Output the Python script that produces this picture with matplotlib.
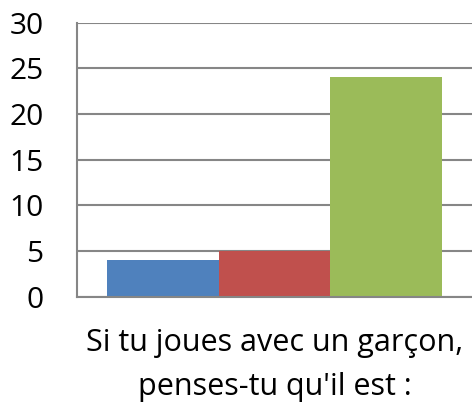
import matplotlib
matplotlib.use("Agg")
import matplotlib.pyplot as plt

categories = ["Si tu joues avec un garçon,\npenses-tu qu'il est :"]
series_names = ["A", "B", "C"]
series_values = [[4], [5], [24]]
series_colors = ["#4F81BD", "#C0504D", "#9BBB59"]
y_ticks = [0, 5, 10, 15, 20, 25, 30]

plt.rcParams['font.family'] = ['Open Sans', 'DejaVu Sans']

fig = plt.figure(figsize=(4.72, 4.05), dpi=100)
ax = fig.add_axes([77/472, 1 - 296.5/405, (472 - 77)/472, (296.5 - 22.7)/405])

bw = 0.2835
n = len(series_values)
for i, (vals, col) in enumerate(zip(series_values, series_colors)):
    xs = [j + (i - (n - 1) / 2) * bw for j in range(len(categories))]
    ax.bar(xs, vals, width=bw, color=col, zorder=3, linewidth=0)

ax.set_xlim(-0.5, len(categories) - 0.5)
ax.set_ylim(0, 30)
ax.set_yticks(y_ticks)
ax.set_yticklabels([str(t) for t in y_ticks], fontsize=21.5)
ax.set_xticks(range(len(categories)))
ax.set_xticklabels(categories, fontsize=22, linespacing=1.6)
ax.tick_params(axis='y', length=0, pad=24)
ax.tick_params(axis='x', length=0, pad=23)
ax.grid(axis='y', color='#868686', linewidth=1.5, zorder=0)
for s in ['top', 'right']:
    ax.spines[s].set_visible(False)
for s in ['left', 'bottom']:
    ax.spines[s].set_color('#868686')
    ax.spines[s].set_linewidth(1.5)
ax.spines['left'].set_zorder(4)
ax.spines['bottom'].set_zorder(4)

fig.savefig("out.png", dpi=100)
